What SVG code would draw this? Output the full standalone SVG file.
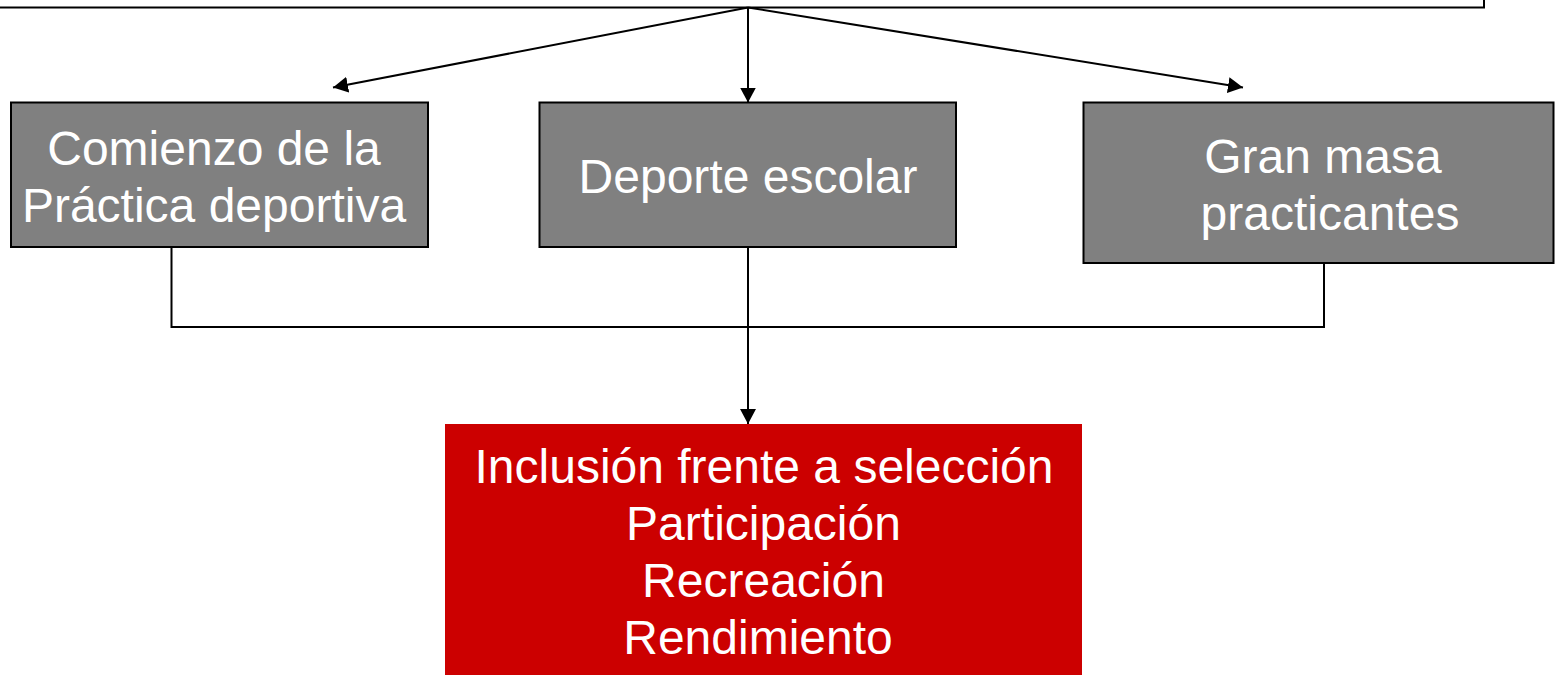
<svg xmlns="http://www.w3.org/2000/svg" width="1555" height="675" viewBox="0 0 1555 675">
<style>
.gray{fill:#808080;stroke:#000;stroke-width:2}
.lbl{font-family:"Liberation Sans",Arial,sans-serif;font-size:48px;fill:#fff;text-anchor:middle}
.conn{fill:none;stroke:#000;stroke-width:2}
</style>
<defs>
<marker id="arr" markerUnits="userSpaceOnUse" markerWidth="16" markerHeight="16" refX="15" refY="8" orient="auto">
<path d="M0,0 L15,8 L0,16 z" fill="#000"/>
</marker>
</defs>
<rect width="1555" height="675" fill="#fff"/>
<g id="top">
<rect x="-5" y="-60" width="1489" height="67.5" fill="#fff" stroke="#000" stroke-width="2"/>
</g>
<g id="comienzo">
<rect class="gray" x="11" y="102.5" width="417" height="144.5"/>
<text class="lbl" x="214" y="165">Comienzo de la</text>
<text class="lbl" x="214" y="222">Práctica deportiva</text>
</g>
<g id="deporte">
<rect class="gray" x="539.5" y="102.5" width="416.5" height="144.5"/>
<text class="lbl" x="748" y="193">Deporte escolar</text>
</g>
<g id="gran">
<rect class="gray" x="1083.5" y="102.5" width="470" height="160.5"/>
<text class="lbl" x="1323" y="172.5">Gran masa</text>
<text class="lbl" x="1330" y="229.5">practicantes</text>
</g>
<g id="inclusion">
<rect x="445" y="424" width="637" height="260" fill="#cc0000"/>
<text class="lbl" x="764" y="483">Inclusión frente a selección</text>
<text class="lbl" x="763.5" y="540">Participación</text>
<text class="lbl" x="763.5" y="597">Recreación</text>
<text class="lbl" x="758" y="654">Rendimiento</text>
</g>
<g id="connectors">
<line class="conn" x1="748" y1="7.5" x2="333" y2="87.5" marker-end="url(#arr)"/>
<line class="conn" x1="748" y1="7.5" x2="748" y2="102.5" marker-end="url(#arr)"/>
<line class="conn" x1="748" y1="7.5" x2="1243" y2="87.5" marker-end="url(#arr)"/>
<polyline class="conn" points="171.5,247 171.5,327 1324,327 1324,263"/>
<line class="conn" x1="748" y1="247" x2="748" y2="424" marker-end="url(#arr)"/>
</g>
</svg>
